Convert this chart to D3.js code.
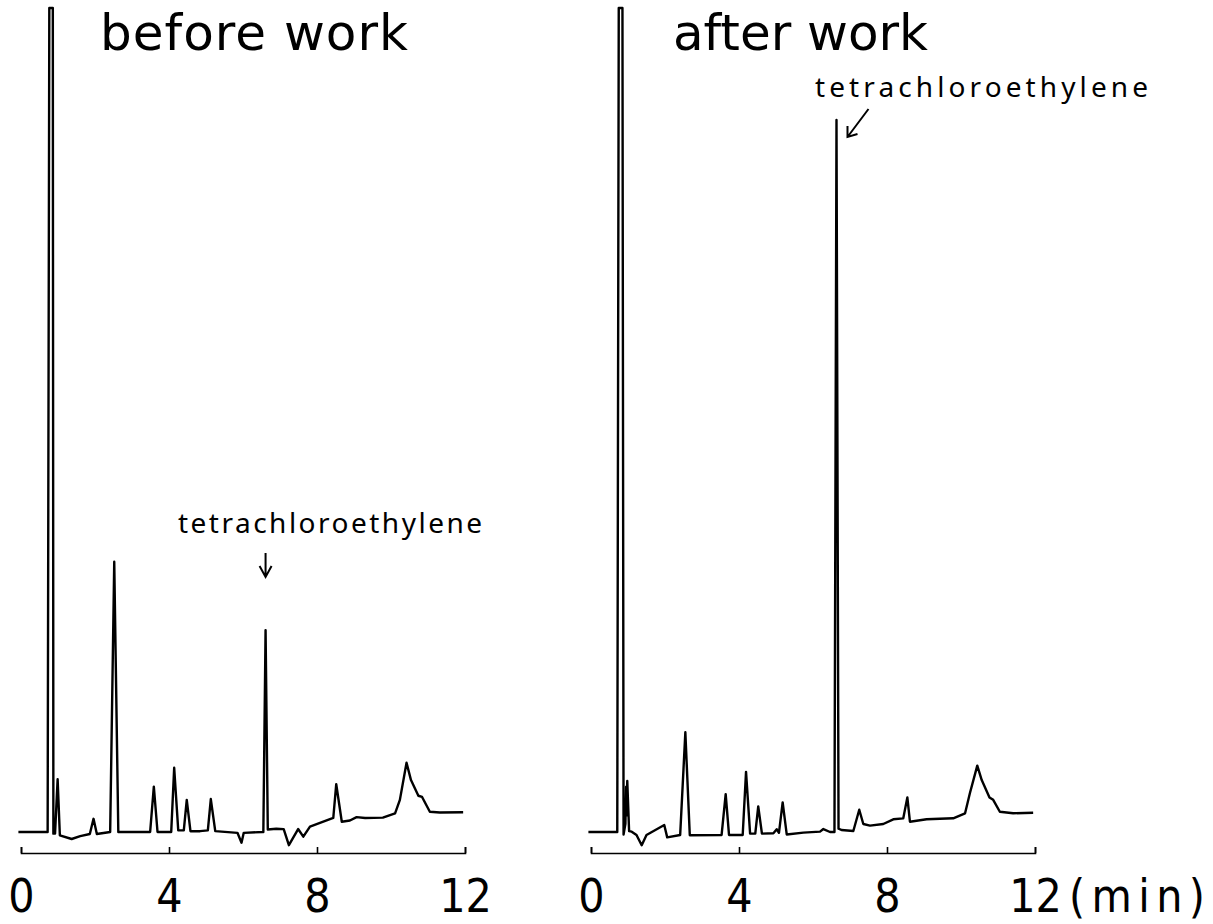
<!DOCTYPE html>
<html>
<head>
<meta charset="utf-8">
<script src="https://cdn.jsdelivr.net/npm/d3@7"></script>
<style>
body { margin: 0; background: #fff; }
svg { display: block; }
text { font-family: "DejaVu Sans", sans-serif; fill: #000; }
</style>
</head>
<body>
<div class="container"></div>
<script>
// chromatogram traces: retention time (min) and detector signal (arb. units, 100 = off scale)
var beforeTime = [-0.07, 0.70, 0.72, 0.765, 0.86, 0.875, 0.92, 0.99, 1.05, 1.37, 1.60, 1.86, 1.96, 2.05, 2.41, 2.52, 2.63,
  3.49, 3.59, 3.69, 4.06, 4.14, 4.25, 4.40, 4.48, 4.58, 4.84, 5.05, 5.13, 5.25, 5.85, 5.96, 6.02, 6.52, 6.55, 6.61, 6.67,
  6.90, 7.10, 7.24, 7.49, 7.63, 7.81, 8.44, 8.52, 8.67, 8.89, 9.07, 9.30, 9.78, 10.11, 10.24, 10.42, 10.54, 10.74, 10.84,
  10.95, 11.05, 11.32, 11.95];
var beforeSignal = [0, 0, 0, 100, 100, -0.2, -0.2, 6.4, -0.4, -0.85, -0.5, -0.24, 1.6, -0.24, 0, 32.8, 0,
  0, 5.5, 0, 0, 7.8, 0.2, 0.2, 3.9, 0.1, 0.1, 0.2, 4.0, 0.1, -0.1, -1.3, -0.1, 0, 0, 24.5, 0.3,
  0.4, 0.35, -1.6, 0.36, -0.57, 0.65, 1.7, 5.8, 1.25, 1.4, 1.8, 1.7, 1.74, 2.27, 3.9, 8.4, 6.3, 4.4, 4.25,
  3.3, 2.46, 2.37, 2.4];

var afterTime = [-0.07, 0.69, 0.71, 0.75, 0.85, 0.88, 0.93, 0.95, 0.96, 0.98, 1.03, 1.10, 1.23, 1.37, 1.50, 1.98, 2.06,
  2.41, 2.55, 2.67, 3.53, 3.64, 3.73, 4.10, 4.19, 4.30, 4.44, 4.52, 4.62, 4.93, 5.02, 5.08, 5.18, 5.29, 5.74, 6.19, 6.28,
  6.46, 6.58, 6.635, 6.69, 6.77, 7.09, 7.25, 7.36, 7.54, 7.90, 8.17, 8.44, 8.55, 8.62, 9.07, 9.79, 10.11, 10.24, 10.44,
  10.56, 10.77, 10.87, 11.05, 11.41, 11.95];
var afterSignal = [0, 0, 0, 100, 100, -0.3, 1.0, 5.5, 2.0, 6.2, 0.1, 0.04, -0.36, -1.6, -0.36, 0.85, -0.65,
  -0.36, 12.1, -0.4, -0.36, 4.6, -0.36, -0.36, 7.3, -0.2, -0.2, 3.1, -0.2, -0.16, 0.33, -0.1, 3.6, -0.3, -0.08, 0.04, 0.36,
  0, 0, 86.4, 0.4, 0.24, 0.12, 2.7, 0.97, 0.77, 0.97, 1.54, 1.66, 4.2, 1.25, 1.54, 1.66, 2.27, 4.7, 8.05,
  6.3, 4.2, 3.9, 2.46, 2.27, 2.34];

var tickValues = [0, 4, 8, 12];
var titles = ["before work", "after work"];
var peakName = "tetrachloroethylene";
var peakTime = [6.61, 6.635];
var unitLabel = "(min)";

var w = 1213, h = 924;

var svg = d3.select('.container')
  .append('svg')
  .attr('width', w)
  .attr('height', h);

var yScale = d3.scaleLinear().domain([0, 100]).range([832, 8]);

var panels = [
  { time: beforeTime, signal: beforeSignal, x0: 21, title: titles[0], titleX: 100, titleW: 308 },
  { time: afterTime, signal: afterSignal, x0: 591, title: titles[1], titleX: 673, titleW: 255 }
];

panels.forEach(function(p, k) {
  var xScale = d3.scaleLinear().domain([0, 12]).range([p.x0, p.x0 + 444]);
  p.xScale = xScale;

  var line = d3.line()
    .x(function(d) { return xScale(d[0]); })
    .y(function(d) { return yScale(d[1]); });

  svg.append('path')
    .datum(p.time.map(function(t, i) { return [t, p.signal[i]]; }))
    .attr('d', line)
    .attr('fill', 'none')
    .attr('stroke', '#000')
    .attr('stroke-width', 2.4)
    .attr('stroke-linejoin', 'round');

  var xAxis = d3.axisBottom(xScale)
    .tickValues(tickValues)
    .tickSizeInner(-6)
    .tickSizeOuter(-6)
    .tickPadding(26)
    .tickFormat(d3.format('d'));

  var g = svg.append('g')
    .attr('transform', 'translate(0, 853)')
    .call(xAxis);
  g.select('.domain').attr('stroke-width', 1.6);
  g.selectAll('.tick line').attr('stroke-width', 1.6);
  g.selectAll('.tick text')
    .style('font-size', '46px')
    .style('font-family', '"DejaVu Sans Condensed", "DejaVu Sans", sans-serif');

  svg.append('text')
    .attr('x', p.titleX)
    .attr('y', 50)
    .attr('textLength', p.titleW)
    .attr('lengthAdjust', 'spacing')
    .style('font-size', '50px')
    .text(p.title);
});

// annotation, before work: label with a down arrow
var xl = panels[0].xScale(peakTime[0]);
svg.append('text')
  .attr('x', 178).attr('y', 533)
  .attr('textLength', 304).attr('lengthAdjust', 'spacing')
  .style('font-size', '28px')
  .style('font-family', '"Noto Sans", sans-serif')
  .text(peakName);
svg.append('path')
  .attr('d', 'M' + xl + ',553 V577 M' + (xl - 6) + ',566 L' + xl + ',577 L' + (xl + 6) + ',566')
  .attr('fill', 'none').attr('stroke', '#000').attr('stroke-width', 2);

// annotation, after work: label with a diagonal arrow
var xr = panels[1].xScale(peakTime[1]);
svg.append('text')
  .attr('x', 815).attr('y', 97)
  .attr('textLength', 333).attr('lengthAdjust', 'spacing')
  .style('font-size', '28px')
  .style('font-family', '"Noto Sans", sans-serif')
  .text(peakName);
var ax = xr + 11, ay = 137;
svg.append('path')
  .attr('d', 'M' + (ax + 21) + ',109 L' + ax + ',' + ay +
    ' M' + ax + ',' + (ay - 11) + ' L' + ax + ',' + ay + ' L' + (ax + 10) + ',' + (ay - 3))
  .attr('fill', 'none').attr('stroke', '#000').attr('stroke-width', 2);

// unit label after the last tick of the right panel
svg.append('text')
  .attr('x', 1069).attr('y', 912)
  .attr('textLength', 136).attr('lengthAdjust', 'spacing')
  .style('font-size', '46px')
  .style('font-family', '"DejaVu Sans Condensed", "DejaVu Sans", sans-serif')
  .text(unitLabel);
</script>
</body>
</html>
